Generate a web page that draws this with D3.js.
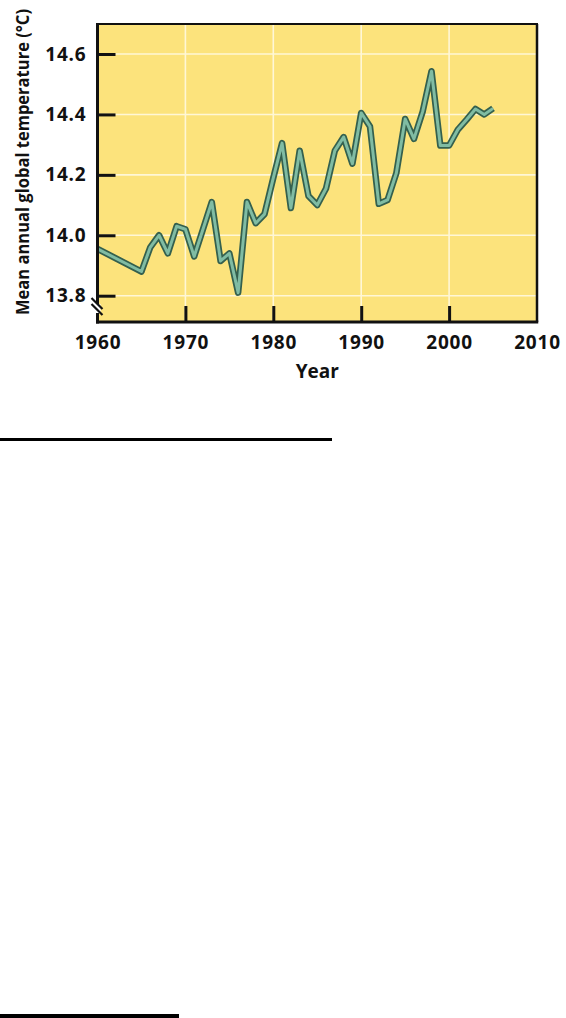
<!DOCTYPE html>
<html><head><meta charset="utf-8">
<script src="https://cdn.jsdelivr.net/npm/d3@7"></script>
<style>
html,body{margin:0;padding:0;background:#fff;}
svg{display:block;}
text{font-family:"Open Sans","DejaVu Sans",sans-serif;font-weight:700;fill:#111;}
</style></head>
<body>
<script>
// Data
const years = [1960,1965,1966,1967,1968,1969,1970,1971,1972,1973,1974,1975,1976,1977,1978,1979,1980,1981,1982,1983,1984,1985,1986,1987,1988,1989,1990,1991,1992,1993,1994,1995,1996,1997,1998,1999,2000,2001,2002,2003,2004,2005];
const temps = [13.955,13.88,13.96,14.00,13.94,14.03,14.02,13.93,14.02,14.11,13.915,13.94,13.81,14.11,14.04,14.07,14.19,14.305,14.09,14.28,14.13,14.10,14.155,14.28,14.325,14.237,14.405,14.36,14.104,14.117,14.206,14.385,14.319,14.41,14.543,14.297,14.297,14.35,14.383,14.418,14.40,14.42];
const xTicks = [1960,1970,1980,1990,2000,2010];
const yTicks = [13.8,14.0,14.2,14.4,14.6];
const xGrid = [1970,1980,1990,2000];
const xTitle = "Year";
const yTitle = "Mean annual global temperature (°C)";

const W = 566, H = 1018;
const L = 97.5, R = 537, T = 24, B = 322;
const svg = d3.select("body").append("svg").attr("width", W).attr("height", H);

const x = d3.scaleLinear().domain([1960, 2010]).range([L, R]);
const y = d3.scaleLinear().domain([13.8, 14.6]).range([295.7, 54]);

// plot background
svg.append("rect").attr("x", L).attr("y", T).attr("width", R - L).attr("height", B - T).attr("fill", "#FCE37C");

// grid
svg.append("g").selectAll("line").data(yTicks).join("line")
  .attr("x1", L).attr("x2", R).attr("y1", d => y(d)).attr("y2", d => y(d))
  .attr("stroke", "#FFF7D6").attr("stroke-width", 1.6);
svg.append("g").selectAll("line").data(xGrid).join("line")
  .attr("x1", d => x(d)).attr("x2", d => x(d)).attr("y1", T).attr("y2", B)
  .attr("stroke", "#FFF7D6").attr("stroke-width", 1.6);

// data line
const pts = years.map((d, i) => [d, temps[i]]);
const line = d3.line().x(d => x(d[0])).y(d => y(d[1]));
svg.append("path").attr("d", line(pts)).attr("fill", "none")
  .attr("stroke", "#34604E").attr("stroke-width", 6.5).attr("stroke-linejoin", "round").attr("stroke-linecap", "butt");
svg.append("path").attr("d", line(pts)).attr("fill", "none")
  .attr("stroke", "#80BCA3").attr("stroke-width", 3).attr("stroke-linejoin", "round").attr("stroke-linecap", "butt");

// frame top/right
svg.append("line").attr("x1", L).attr("x2", R + 1).attr("y1", T).attr("y2", T).attr("stroke", "#111").attr("stroke-width", 2.2);
svg.append("line").attr("x1", R).attr("x2", R).attr("y1", T).attr("y2", B).attr("stroke", "#111").attr("stroke-width", 2.5);

// axes
const yAxis = d3.axisLeft(y).tickValues(yTicks).tickFormat(d3.format(".1f")).tickSize(-18).tickPadding(11);
const gy = svg.append("g").attr("transform", `translate(${L},0)`).call(yAxis);
const xAxis = d3.axisBottom(x).tickValues(xTicks).tickFormat(d3.format("d")).tickSize(-16).tickPadding(14);
const gx = svg.append("g").attr("transform", `translate(0,${B})`).call(xAxis);
[gx, gy].forEach(g => {
  g.select(".domain").remove();
  g.selectAll(".tick line").attr("stroke", "#111").attr("stroke-width", 3);
  g.selectAll(".tick text").attr("fill", "#111").style("font-size", "19px").style("letter-spacing", "0.8px").attr("font-family", null);
});
gx.selectAll(".tick").filter(d => d === 1960 || d === 2010).select("line").remove();
gx.selectAll(".tick text").attr("dy", "0.71em");

// axis lines
svg.append("line").attr("x1", L).attr("x2", L).attr("y1", T - 1).attr("y2", B + 1.5).attr("stroke", "#111").attr("stroke-width", 3);
svg.append("line").attr("x1", L - 1.5).attr("x2", R + 1.25).attr("y1", B).attr("y2", B).attr("stroke", "#111").attr("stroke-width", 3);

// axis break marks
svg.append("rect").attr("x", L - 3).attr("y", 304).attr("width", 6).attr("height", 9).attr("fill", "#fff");
svg.append("g").selectAll("line").data([0, 6]).join("line")
  .attr("x1", d => L - 6).attr("y1", d => 298 + d)
  .attr("x2", d => L + 5).attr("y2", d => 309 + d)
  .attr("stroke", "#111").attr("stroke-width", 2.2);

// titles
svg.append("text").attr("x", (L + R) / 2).attr("y", 378).attr("text-anchor", "middle").style("font-size", "19px").text(xTitle);
svg.append("text").attr("transform", "translate(29,162) rotate(-90)").attr("text-anchor", "middle")
  .style("font-size", "17px").attr("textLength", 306).attr("lengthAdjust", "spacingAndGlyphs").text(yTitle);

// separator rules below
svg.append("rect").attr("x", 0).attr("y", 438).attr("width", 332).attr("height", 3).attr("fill", "#000");
svg.append("rect").attr("x", 0).attr("y", 1014).attr("width", 179).attr("height", 4).attr("fill", "#000");
</script>
</body></html>
